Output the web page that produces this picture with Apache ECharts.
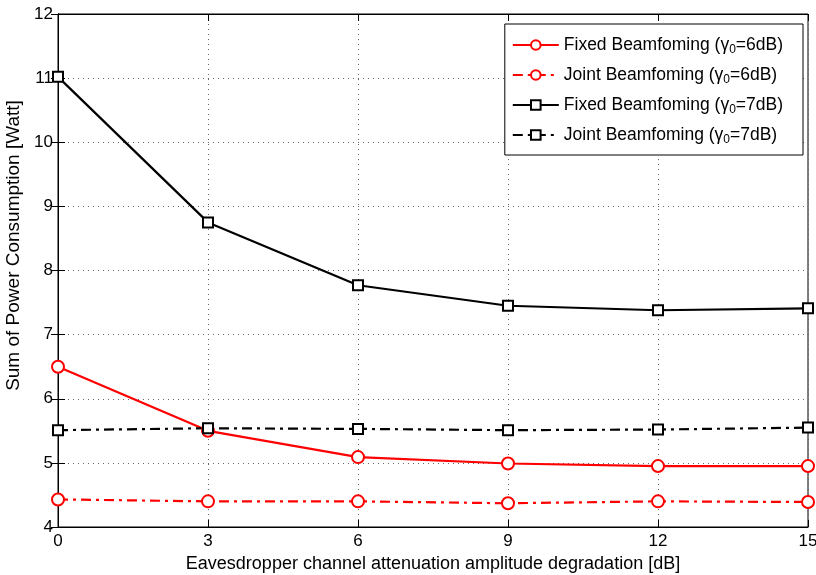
<!DOCTYPE html>
<html>
<head>
<meta charset="utf-8">
<script src="https://cdn.jsdelivr.net/npm/echarts@6/dist/echarts.min.js"></script>
<style>
  html, body { margin: 0; padding: 0; background: #fff; }
  #chart { width: 816px; height: 575px; }
</style>
</head>
<body>
<div id="chart"></div>
<script>
// Attenuation degradation steps (dB)
const xValues = [0, 3, 6, 9, 12, 15];

// Power consumption (Watt) for each scheme
const fixed6 = [6.50, 5.50, 5.09, 4.99, 4.95, 4.95];
const joint6 = [4.43, 4.40, 4.40, 4.37, 4.40, 4.39];
const fixed7 = [11.02, 8.75, 7.77, 7.45, 7.38, 7.41];
const joint7 = [5.51, 5.54, 5.53, 5.51, 5.52, 5.55];

const seriesNames = [
  'Fixed Beamfoming (γ0=6dB)',
  'Joint Beamfoming (γ0=6dB)',
  'Fixed Beamfoming (γ0=7dB)',
  'Joint Beamfoming (γ0=7dB)'
];

const FONT = 'Liberation Sans, Arial, Helvetica, sans-serif';
const dashDot = [10, 5, 3, 5];

function pairs(vals) {
  return xValues.map((x, i) => [x, vals[i]]);
}

function makeSeries(name, vals, color, symbol, dashed) {
  return {
    name: name,
    type: 'line',
    data: pairs(vals),
    symbol: symbol,
    symbolSize: symbol === 'emptyCircle' ? 12 : 10,
    showAllSymbol: true,
    clip: false,
    lineStyle: { color: color, width: 2.2, type: dashed ? dashDot : 'solid' },
    itemStyle: { color: color, borderColor: color, borderWidth: 2.2 },
    emphasis: { disabled: true },
    animation: false,
    z: 5
  };
}

const chart = echarts.init(document.getElementById('chart'));

const axisCommon = {
  axisLine: { show: true, lineStyle: { color: '#000', width: 1 } },
  axisTick: { show: true, inside: true, length: 7, lineStyle: { color: '#000' } },
  axisLabel: { color: '#000', fontSize: 17, fontFamily: FONT }
};

chart.setOption({
  backgroundColor: '#fff',
  animation: false,
  grid: {
    left: 58, right: 8, top: 14, bottom: 48,
    containLabel: false, outerBoundsMode: 'none',
    show: true, borderColor: '#000', borderWidth: 1, backgroundColor: 'transparent'
  },
  xAxis: [
    Object.assign({}, axisCommon, {
      type: 'value', min: 0, max: 15, interval: 3,
      name: 'Eavesdropper channel attenuation amplitude degradation [dB]',
      nameLocation: 'middle', nameGap: 27,
      nameTextStyle: { color: '#000', fontSize: 18, fontFamily: FONT },
      axisLabel: { color: '#000', fontSize: 17, fontFamily: FONT, margin: 6 },
      splitLine: { show: true, lineStyle: { color: '#666', width: 1, type: [1, 4] } }
    }),
    Object.assign({}, axisCommon, {
      type: 'value', min: 0, max: 15, interval: 3, position: 'top',
      axisLabel: { show: false }, splitLine: { show: false }
    })
  ],
  yAxis: [
    Object.assign({}, axisCommon, {
      type: 'value', min: 4, max: 12, interval: 1,
      name: 'Sum of Power Consumption [Watt]',
      nameLocation: 'middle', nameGap: 14, nameRotate: 90,
      nameTextStyle: { color: '#000', fontSize: 19, fontFamily: FONT, padding: [0, 0, 0, 50] },
      axisLabel: { color: '#000', fontSize: 17, fontFamily: FONT, margin: 5 },
      splitLine: { show: true, lineStyle: { color: '#666', width: 1, type: [1, 4] } }
    }),
    Object.assign({}, axisCommon, {
      type: 'value', min: 4, max: 12, interval: 1, position: 'right',
      axisLabel: { show: false }, splitLine: { show: false }
    })
  ],
  legend: {
    show: true,
    orient: 'vertical',
    right: 13, top: 24,
    backgroundColor: '#fff',
    borderColor: '#000',
    borderWidth: 1,
    borderRadius: 0,
    padding: [10, 20, 9, 7],
    itemGap: 8,
    itemWidth: 46,
    itemHeight: 12,
    itemTextGap: 7,
    data: seriesNames,
    formatter: function (n) { return n.replace('γ0', 'γ{s|0}'); },
    textStyle: {
      color: '#000', fontSize: 17.5, fontFamily: FONT, lineHeight: 22,
      rich: {
        s: { fontSize: 12, fontFamily: FONT, color: '#000', verticalAlign: 'bottom', lineHeight: 22, padding: [10, 0, 0, 0] }
      }
    }
  },
  series: [
    makeSeries(seriesNames[0], fixed6, '#ff0000', 'emptyCircle', false),
    makeSeries(seriesNames[1], joint6, '#ff0000', 'emptyCircle', true),
    makeSeries(seriesNames[2], fixed7, '#000000', 'emptyRect', false),
    makeSeries(seriesNames[3], joint7, '#000000', 'emptyRect', true)
  ]
});
</script>
</body>
</html>
